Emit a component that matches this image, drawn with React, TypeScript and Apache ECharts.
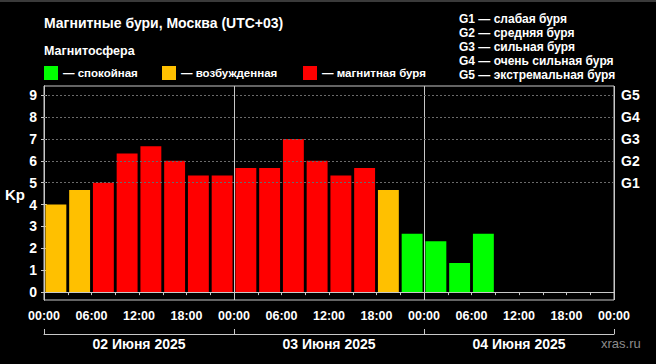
import React, { useEffect, useRef } from "react";
import * as echarts from "echarts";

// 3-hour Kp values, 02–04 June 2025 (Moscow time)
const slots = [
  "02 00", "02 03", "02 06", "02 09", "02 12", "02 15", "02 18", "02 21",
  "03 00", "03 03", "03 06", "03 09", "03 12", "03 15", "03 18", "03 21",
  "04 00", "04 03", "04 06", "04 09", "04 12", "04 15", "04 18", "04 21",
];
const kpValues: (number | null)[] = [
  4.0, 4.67, 5.0, 6.33, 6.67, 6.0, 5.33, 5.33,
  5.67, 5.67, 7.0, 6.0, 5.33, 5.67, 4.67, 2.67,
  2.33, 1.33, 2.67, null, null, null, null, null,
];
const days = ["02 Июня 2025", "03 Июня 2025", "04 Июня 2025"];
const kpTicks = [0, 1, 2, 3, 4, 5, 6, 7, 8, 9];
const gLevels = [5, 6, 7, 8, 9];
const gNames = ["G1", "G2", "G3", "G4", "G5"];
const gDescriptions = [
  "G1 — слабая буря",
  "G2 — средняя буря",
  "G3 — сильная буря",
  "G4 — очень сильная буря",
  "G5 — экстремальная буря",
];
const legendItems = [
  { label: "— спокойная", color: "#00ff00" },
  { label: "— возбужденная", color: "#ffc000" },
  { label: "— магнитная буря", color: "#ff0000" },
];

const FONT = "'Liberation Sans', Arial, sans-serif";
const AXIS = "#c8c8c8";

function kpColor(v: number): string {
  if (v >= 5) return legendItems[2].color;
  if (v >= 4) return legendItems[1].color;
  return legendItems[0].color;
}

export default function App() {
  const ref = useRef<HTMLDivElement>(null);

  useEffect(() => {
    if (!ref.current) return;
    const chart = echarts.init(ref.current, null, { renderer: "svg" });

    const legendX = [44, 162, 303];
    const graphics: any[] = [
      { type: "line", shape: { x1: 0, y1: 1, x2: 656, y2: 1 }, style: { stroke: "#3a3a3a", lineWidth: 2 } },
      {
        type: "text", x: 44, y: 23,
        style: { text: "Магнитные бури, Москва (UTC+03)", fill: "#fff", font: `bold 14px ${FONT}`, verticalAlign: "middle" },
      },
      {
        type: "text", x: 44, y: 51,
        style: { text: "Магнитосфера", fill: "#fff", font: `bold 12.5px ${FONT}`, verticalAlign: "middle" },
      },
      {
        type: "text", x: 5, y: 194,
        style: { text: "Kp", fill: "#fff", font: `bold 15px ${FONT}`, verticalAlign: "middle" },
      },
      {
        type: "text", x: 601, y: 343,
        style: { text: "xras.ru", fill: "#8c8c8c", font: `13px ${FONT}`, verticalAlign: "middle" },
      },
    ];
    legendItems.forEach((it, i) => {
      graphics.push({ type: "rect", shape: { x: legendX[i], y: 66, width: 14, height: 14 }, style: { fill: it.color } });
      graphics.push({
        type: "text", x: legendX[i] + 19, y: 73,
        style: { text: it.label, fill: "#fff", font: `bold 11.5px ${FONT}`, verticalAlign: "middle" },
      });
    });
    gDescriptions.forEach((t, i) => {
      graphics.push({
        type: "text", x: 459, y: 19 + 14 * i,
        style: { text: t, fill: "#fff", font: `bold 12px ${FONT}`, verticalAlign: "middle" },
      });
    });

    const hours = slots.length * 3;

    chart.setOption({
      animation: false,
      backgroundColor: "#000",
      textStyle: { fontFamily: FONT },
      grid: { left: 44, right: 42, top: 86, bottom: 64, show: true, borderColor: AXIS, borderWidth: 1 },
      graphic: graphics,
      xAxis: [
        { type: "category", data: slots, show: false, boundaryGap: true },
        {
          type: "value", position: "bottom", min: 0, max: hours, interval: 3,
          axisLine: { show: true, lineStyle: { color: AXIS } },
          axisTick: { show: true, length: 3, lineStyle: { color: AXIS } },
          splitLine: { show: false },
          axisLabel: {
            color: "#fff", fontWeight: "bold", fontSize: 12.5, margin: 9,
            formatter: (v: number) => (v % 6 === 0 ? String(v % 24).padStart(2, "0") + ":00" : ""),
          },
        },
        {
          type: "value", position: "bottom", min: 0, max: hours, interval: 24,
          axisLine: { show: false }, axisTick: { show: false }, axisLabel: { show: false },
          splitLine: { show: true, lineStyle: { color: AXIS, width: 1 } },
        },
        {
          type: "category", position: "bottom", offset: 34, data: days, boundaryGap: true,
          axisLine: { show: true, lineStyle: { color: AXIS } },
          axisTick: { show: true, inside: true, length: 5, lineStyle: { color: AXIS } },
          axisLabel: { color: "#fff", fontWeight: "bold", fontSize: 14, margin: 3 },
        },
      ],
      yAxis: [
        {
          type: "value", position: "left", min: -0.36, max: 9.42,
          axisLine: { show: true, lineStyle: { color: AXIS } },
          axisTick: { show: true, length: 3, lineStyle: { color: AXIS }, customValues: kpTicks },
          axisLabel: { color: "#fff", fontWeight: "bold", fontSize: 14, margin: 7, customValues: kpTicks },
          splitLine: { show: false },
        },
        {
          type: "value", position: "right", min: -0.36, max: 9.42,
          axisLine: { show: true, lineStyle: { color: AXIS } },
          axisTick: { show: true, length: 3, lineStyle: { color: AXIS }, customValues: kpTicks },
          axisLabel: {
            color: "#fff", fontWeight: "bold", fontSize: 14, margin: 7, customValues: gLevels,
            formatter: (v: number) => {
              const i = gLevels.indexOf(Math.round(v));
              return i >= 0 ? gNames[i] : "";
            },
          },
          splitLine: { show: false },
        },
      ],
      series: [
        {
          type: "bar",
          xAxisIndex: 0,
          yAxisIndex: 0,
          barCategoryGap: "12%",
          data: kpValues.map((v) =>
            v == null ? null : { value: v, itemStyle: { color: kpColor(v) } }
          ),
          markLine: {
            silent: true,
            symbol: "none",
            label: { show: false },
            lineStyle: { color: "#6a6a6a", type: [2, 2], width: 1 },
            data: gLevels.map((g) => ({ yAxis: g })),
          },
        },
      ],
    });

    return () => chart.dispose();
  }, []);

  return (
    <div
      ref={ref}
      style={{ position: "fixed", left: 0, top: 0, width: 656, height: 364, background: "#000" }}
    />
  );
}
